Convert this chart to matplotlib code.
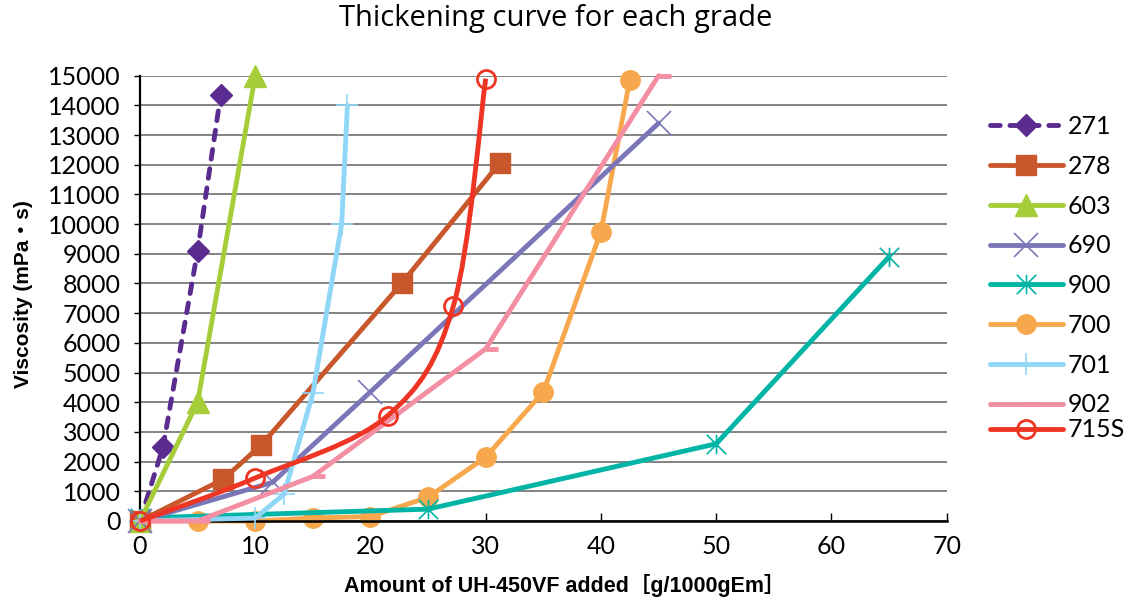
import matplotlib
matplotlib.use("Agg")
import matplotlib.pyplot as plt
from matplotlib.path import Path
from matplotlib.patches import PathPatch
from matplotlib.lines import Line2D

plt.rcParams["font.family"] = ["Lato", "DejaVu Sans"]

# data (x: g/1000gEm, y: mPa·s)
x_271 = [0, 2, 5, 7]
y_271 = [0, 2500, 9100, 14350]
x_278 = [0, 7.2, 10.5, 22.7, 31.2]
y_278 = [0, 1400, 2550, 8000, 12050]
x_603 = [0, 5, 10]
y_603 = [0, 4000, 15000]
x_690 = [0, 11.5, 20, 45]
y_690 = [0, 1300, 4350, 13400]
x_900 = [0, 25, 50, 65]
y_900 = [100, 400, 2600, 8900]
x_700 = [0, 5, 10, 15, 20, 25, 30, 35, 40, 42.5]
y_700 = [0, 0, 0, 100, 150, 800, 2150, 4350, 9750, 14850]
x_701 = [0, 10, 12.5, 15, 17.5, 18]
y_701 = [0, 100, 900, 4300, 10000, 14000]
x_902 = [0, 5, 15, 30, 45]
y_902 = [0, 0, 1500, 5800, 15000]
x_715 = [0, 10, 21.5, 27.2, 30]
y_715 = [0, 1450, 3550, 7250, 14900]

c_271 = "#5b2c8f"
c_278 = "#c8572b"
c_603 = "#a5cd39"
c_690 = "#7a76b8"
c_900 = "#00b4a6"
c_700 = "#f8a84c"
c_701 = "#8fd6f7"
c_902 = "#f48ea3"
c_715 = "#ee3524"

LW = 3.5

# excel-like markers
star_path = Path([(0, -1), (0, 1), (-1, -1), (1, 1), (-1, 1), (1, -1)],
                 [Path.MOVETO, Path.LINETO, Path.MOVETO, Path.LINETO, Path.MOVETO, Path.LINETO])
dash_path = Path([(0, 0), (1, 0)], [Path.MOVETO, Path.LINETO])


def smooth_path(xs, ys):
    # excel "smoothed line": bezier segments with catmull-rom style control points
    pts = list(zip(xs, ys))
    n = len(pts)
    verts = [pts[0]]
    codes = [Path.MOVETO]
    for i in range(n - 1):
        p0 = pts[max(i - 1, 0)]
        p1 = pts[i]
        p2 = pts[i + 1]
        p3 = pts[min(i + 2, n - 1)]
        c1 = (p1[0] + (p2[0] - p0[0]) / 6, p1[1] + (p2[1] - p0[1]) / 6)
        c2 = (p2[0] - (p3[0] - p1[0]) / 6, p2[1] - (p3[1] - p1[1]) / 6)
        verts += [c1, c2, p2]
        codes += [Path.CURVE4] * 3
    return Path(verts, codes)


fig = plt.figure(figsize=(11.29, 6.03), dpi=100)
ax = fig.add_axes([0.124, 0.136, 0.7145, 0.7385])

styles = [
    ("271", x_271, y_271, dict(color=c_271, marker="D", ms=11, linestyle=(0, (2, 2)),
                               dash_capstyle="round", zorder=4)),
    ("278", x_278, y_278, dict(color=c_278, marker="s", ms=15, zorder=5)),
    ("603", x_603, y_603, dict(color=c_603, marker="^", ms=16, zorder=6)),
    ("690", x_690, y_690, dict(color=c_690, marker="x", ms=17, mew=1.2, zorder=7)),
    ("900", x_900, y_900, dict(color=c_900, marker=star_path, ms=14, mew=1.2, zorder=3)),
    ("700", x_700, y_700, dict(color=c_700, marker="o", ms=14, zorder=2)),
    ("701", x_701, y_701, dict(color=c_701, marker="+", ms=16, mew=1.2, zorder=8)),
    ("902", x_902, y_902, dict(color=c_902, marker=dash_path, ms=17, mew=LW, zorder=9)),
]

handles = []
for name, xs, ys, kw in styles:
    ln, = ax.plot(xs, ys, lw=LW, solid_capstyle="round", clip_on=False, label=name, **kw)
    handles.append(ln)

# 715S is drawn as a smoothed curve
ax.add_patch(PathPatch(smooth_path(x_715, y_715), facecolor="none", edgecolor=c_715,
                       lw=LW, zorder=10, clip_on=False))
ax.plot(x_715, y_715, linestyle="none", marker="o", ms=13, mfc="none", mec=c_715,
        mew=2, zorder=11, clip_on=False)
h_715 = Line2D([], [], color=c_715, lw=LW, marker="o", ms=13, mfc="none", mec=c_715,
               mew=2, solid_capstyle="round")

ax.set_xlim(0, 70)
ax.set_ylim(0, 15000)
ax.set_xticks(range(0, 71, 10))
ax.set_yticks(range(0, 15001, 1000))
ax.yaxis.grid(True, color="#7a7a7a", lw=1.3)
ax.set_axisbelow(True)
for s in ["top", "right"]:
    ax.spines[s].set_visible(False)
ax.spines["left"].set_linewidth(1.6)
ax.spines["bottom"].set_linewidth(1.8)
ax.tick_params(axis="x", direction="in", length=6, width=1, pad=10, labelsize=18)
ax.tick_params(axis="y", direction="out", length=4, width=1, pad=10, labelsize=18)

lab_fam = ["Liberation Sans", "Noto Sans CJK JP", "DejaVu Sans"]
ax.set_xlabel("Amount of UH-450VF added［g/1000gEm］", family=lab_fam,
              fontweight="bold", fontsize=15.5)
ax.xaxis.set_label_coords(0.527, -0.119)
ax.set_ylabel("Viscosity (mPa・s)", family=lab_fam, fontweight="bold", fontsize=15)
ax.yaxis.set_label_coords(-0.133, 0.51)

fig.suptitle("Thickening curve for each grade", family=["Open Sans", "DejaVu Sans"],
             fontsize=21, x=0.4925, y=0.993)

leg1 = ax.legend(handles=handles, loc="upper left", bbox_to_anchor=(0.866, 0.83),
                 bbox_transform=fig.transFigure, frameon=False, fontsize=18,
                 handlelength=2.9, handletextpad=0.2, labelspacing=0.67, borderpad=0)
ax.add_artist(leg1)
ax.legend(handles=[h_715], labels=["715S"], loc="upper left", bbox_to_anchor=(0.866, 0.327),
          bbox_transform=fig.transFigure, frameon=False, fontsize=18,
          handlelength=2.9, handletextpad=0.2, borderpad=0)

fig.savefig("out.png", dpi=100)
